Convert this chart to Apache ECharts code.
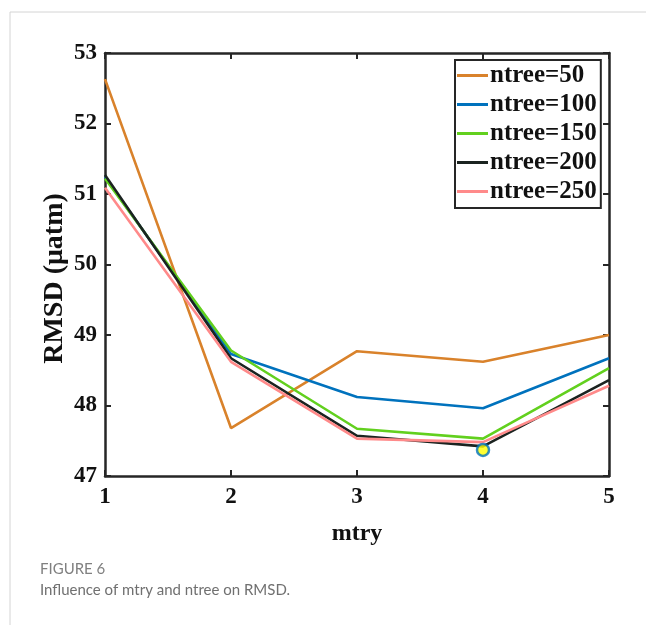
<!DOCTYPE html>
<html>
<head>
<meta charset="utf-8">
<script src="https://cdn.jsdelivr.net/npm/echarts@6/dist/echarts.min.js"></script>
<style>
  html, body { margin: 0; padding: 0; background: #fff; }
  #chart { width: 646px; height: 625px; }
</style>
</head>
<body>
<div id="chart"></div>
<script>
// mtry values on the x axis
var mtry = [1, 2, 3, 4, 5];
var seriesNames = ['ntree=50', 'ntree=100', 'ntree=150', 'ntree=200', 'ntree=250'];
// RMSD
var ntree50  = [52.63, 47.68, 48.77, 48.62, 49.00];
var ntree100 = [51.24, 48.73, 48.12, 47.96, 48.67];
var ntree150 = [51.22, 48.78, 47.67, 47.53, 48.53];
var ntree200 = [51.27, 48.67, 47.57, 47.42, 48.36];
var ntree250 = [51.09, 48.62, 47.53, 47.48, 48.28];
var bestPoint = [4, 47.37];
var yTicks = [47, 48, 49, 50, 51, 52, 53];

var colors = ['#D9822B', '#0072BD', '#62D01E', '#1B2320', '#FF8A8A'];
var allData = [ntree50, ntree100, ntree150, ntree200, ntree250];

var fontFam = '"Liberation Serif", "Times New Roman", serif';
var axisColor = '#262626';

var series = allData.map(function (vals, i) {
    return {
        name: seriesNames[i],
        type: 'line',
        data: vals.map(function (v, k) { return [mtry[k], v]; }),
        showSymbol: false,
        symbol: 'none',
        lineStyle: { width: 2.6, color: colors[i] },
        itemStyle: { color: colors[i] },
        z: 2 + i
    };
});
series.push({
    name: 'best',
    type: 'scatter',
    data: [bestPoint],
    symbol: 'circle',
    symbolSize: 12,
    itemStyle: { color: '#FFFF00', borderColor: '#0072BD', borderWidth: 2.5 },
    z: 10
});

var option = {
    animation: false,
    backgroundColor: '#fff',
    grid: { left: 105, right: 37, top: 53, bottom: 149 },
    legend: {
        data: seriesNames,
        orient: 'vertical',
        left: 455,
        top: 60,
        icon: 'rect',
        itemWidth: 31,
        itemHeight: 3,
        itemGap: 4,
        padding: [3, 4, 4, 2],
        borderColor: axisColor,
        borderWidth: 2,
        backgroundColor: '#fff',
        textStyle: {
            fontFamily: fontFam, fontWeight: 'bold', fontSize: 25,
            color: '#111', lineHeight: 24, padding: [0, 0, 0, -3]
        }
    },
    xAxis: [{
        type: 'value',
        min: 1, max: 5, interval: 1,
        name: 'mtry',
        nameLocation: 'middle',
        nameGap: 46,
        nameMoveOverlap: false,
        nameTextStyle: { fontFamily: fontFam, fontWeight: 'bold', fontSize: 24, color: '#111' },
        axisLine: { show: true, lineStyle: { color: axisColor, width: 2.5 } },
        axisTick: { show: true, inside: true, length: 6, lineStyle: { color: axisColor, width: 2 } },
        axisLabel: { fontFamily: fontFam, fontWeight: 'bold', fontSize: 23, color: '#111', margin: 10 },
        splitLine: { show: false }
    }, {
        type: 'value',
        position: 'top',
        min: 1, max: 5, interval: 1,
        axisLine: { show: true, lineStyle: { color: axisColor, width: 2.5 } },
        axisTick: { show: true, inside: true, length: 6, lineStyle: { color: axisColor, width: 2 } },
        axisLabel: { show: false },
        splitLine: { show: false }
    }],
    yAxis: [{
        type: 'value',
        min: yTicks[0], max: yTicks[yTicks.length - 1], interval: 1,
        name: 'RMSD (μatm)',
        nameLocation: 'middle',
        nameGap: 36,
        nameMoveOverlap: false,
        nameTextStyle: {
            fontFamily: fontFam, fontWeight: 'bold', fontSize: 28, color: '#111',
            padding: [0, 28, 0, 0]
        },
        axisLine: { show: true, lineStyle: { color: axisColor, width: 2.5 } },
        axisTick: { show: true, inside: true, length: 6, lineStyle: { color: axisColor, width: 2 } },
        axisLabel: { fontFamily: fontFam, fontWeight: 'bold', fontSize: 23, color: '#111', margin: 8 },
        splitLine: { show: false }
    }, {
        type: 'value',
        position: 'right',
        min: yTicks[0], max: yTicks[yTicks.length - 1], interval: 1,
        axisLine: { show: true, lineStyle: { color: axisColor, width: 2.5 } },
        axisTick: { show: true, inside: true, length: 6, lineStyle: { color: axisColor, width: 2 } },
        axisLabel: { show: false },
        splitLine: { show: false }
    }],
    graphic: [
        { type: 'line', shape: { x1: 10, y1: 12, x2: 646, y2: 12 }, style: { stroke: '#d4d4d4', lineWidth: 1 } },
        { type: 'line', shape: { x1: 10, y1: 12, x2: 10, y2: 625 }, style: { stroke: '#d4d4d4', lineWidth: 1 } },
        { type: 'text', left: 40, top: 562, style: { text: 'FIGURE 6', font: '15px Lato, "Open Sans", sans-serif', fill: '#808080' } },
        { type: 'text', left: 40, top: 583, style: { text: 'Influence of mtry and ntree on RMSD.', font: '15px Lato, "Open Sans", sans-serif', fill: '#707070' } }
    ],
    series: series
};

var myChart = echarts.init(document.getElementById('chart'));
myChart.setOption(option);
</script>
</body>
</html>
